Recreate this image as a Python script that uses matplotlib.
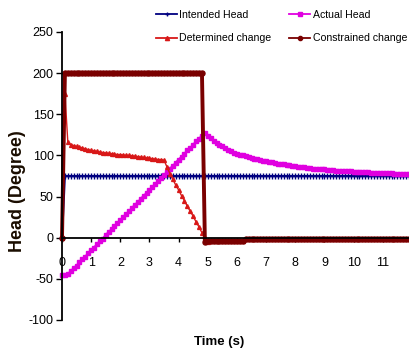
import numpy as np
import matplotlib
matplotlib.use("Agg")
import matplotlib.pyplot as plt

plt.rcParams["axes.unicode_minus"] = False

# ---------------- data (sampled every 0.1 s) ----------------
intended_head = [0] + [75] * 119

actual_head = [
    -45, -45, -44, -41, -37, -34, -30, -26, -23, -19,
    -15, -12, -8, -4, -1, 3, 7, 10, 14, 18,
    21, 25, 29, 32, 36, 40, 43, 47, 51, 54,
    58, 62, 65, 69, 73, 76, 80, 84, 87, 91,
    95, 98, 102, 106, 109, 113, 117, 120, 124, 127,
    124, 121, 118, 115, 113, 111, 109, 107, 105, 103.5,
    102, 101, 100, 99, 98, 97, 96, 95.5, 94.5, 93.5,
    93, 92, 91.5, 91, 90, 89.5, 89, 88.5, 88, 87.5,
    87, 86.5, 86, 85.5, 85, 84.5, 84, 84, 83.5, 83,
    83, 82.5, 82, 82, 81.5, 81.5, 81, 81, 80.5, 80.5,
    80, 80, 80, 79.5, 79.5, 79.5, 79, 79, 79, 79,
    78.5, 78.5, 78.5, 78.5, 78, 78, 78, 78, 78, 78,
]

determined_change = [
    0, 175, 116, 113, 112, 111, 110, 109, 108, 107,
    106, 105.5, 105, 104, 103.5, 103, 102.5, 102, 101.5, 101,
    101, 100.5, 100, 100, 99.5, 99, 98.5, 98, 97.5, 97,
    96.5, 96, 95.5, 95, 95, 94, 86, 78, 71, 64,
    58, 51, 45, 38, 32, 26, 19, 13, 6, 0,
    -5,
] + [-4] * 12 + [-2] * 57

constrained_change = [0] + [200] * 48 + [-5] + [-4] * 13 + [-2] * 57

x_ticks = list(range(0, 12))
y_ticks = [-100, -50, 0, 50, 100, 150, 200, 250]

series = [
    ("Intended Head", intended_head, "#000080", "+", 4.5, 1.5),
    ("Actual Head", actual_head, "#e000e0", "s", 2.6, 1.6),
    ("Determined change", determined_change, "#d81818", "^", 2.8, 1.0),
    ("Constrained change", constrained_change, "#7a0000", "o", 3.6, 2.8),
]

# ---------------- figure ----------------
fam = ["Liberation Sans", "DejaVu Sans"]

W, H = 409, 352
fig = plt.figure(figsize=(W / 100, H / 100), dpi=100)
ax = fig.add_axes([62 / W, 1 - 320 / H, 347 / W, 288 / H])

lines = {}
for label, vals, color, marker, ms, lw in series:
    t = np.arange(len(vals)) * 0.1
    ln, = ax.plot(t, vals, color=color, marker=marker, markersize=ms, lw=lw,
                  markeredgewidth=1.0, label=label, clip_on=False)
    lines[label] = ln

ax.set_xlim(0, 11.9)
ax.set_ylim(-100, 250)
ax.set_xticks(x_ticks)
ax.set_yticks(y_ticks)

for s in ("top", "right"):
    ax.spines[s].set_visible(False)
ax.spines["bottom"].set_position(("data", 0))
ax.spines["bottom"].set_linewidth(1.3)
ax.spines["left"].set_linewidth(1.3)

ax.tick_params(axis="x", direction="out", length=3, width=1, pad=11)
ax.tick_params(axis="y", direction="out", length=4, width=1, pad=2)
for lab in ax.get_xticklabels() + ax.get_yticklabels():
    lab.set_fontfamily(fam)
    lab.set_fontsize(9)

ax.set_ylabel("Head (Degree)", fontsize=13, fontweight="bold", family=fam,
              color="#1a0d00")
ax.yaxis.set_label_coords(-(62 - 26) / 347, (320 - 191) / 288)
ax.set_xlabel("Time (s)", fontsize=9.5, fontweight="bold", family=fam)
ax.xaxis.set_label_coords((219 - 62) / 347, -(336 - 320) / 288)

order = ["Intended Head", "Determined change", "Actual Head", "Constrained change"]
leg = ax.legend([lines[k] for k in order], order,
                loc="upper left", bbox_to_anchor=(156 / W, 1 - 10 / H),
                bbox_transform=fig.transFigure, ncol=2, frameon=False,
                prop={"family": fam, "size": 7.6}, handlelength=2.0,
                handletextpad=0.2, columnspacing=1.7, labelspacing=1.25,
                borderpad=0, borderaxespad=0, numpoints=1)
for h in leg.get_lines():
    h.set_linewidth(1.3)
    h.set_markersize(3)

fig.savefig("out.png", dpi=100)
